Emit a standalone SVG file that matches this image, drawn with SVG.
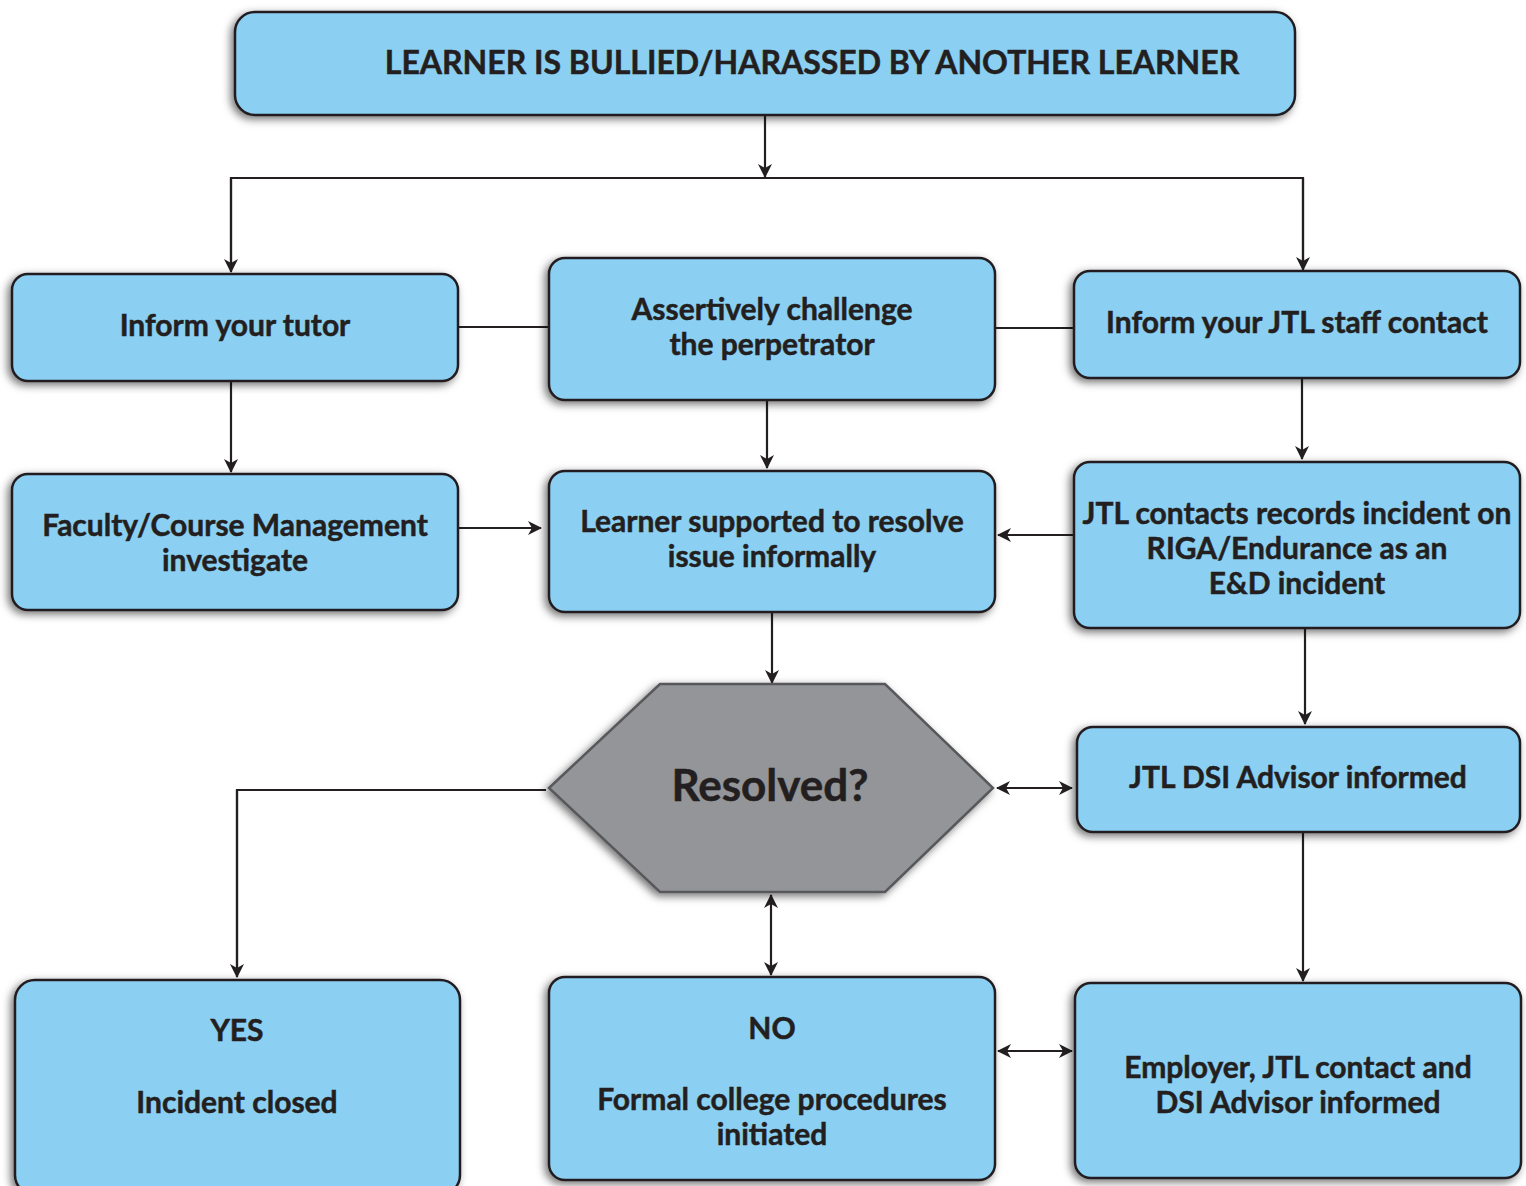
<svg xmlns="http://www.w3.org/2000/svg" width="1526" height="1186" viewBox="0 0 1526 1186">
<defs>
<filter id="sh" x="-10%" y="-20%" width="120%" height="140%">
<feDropShadow dx="-3" dy="3" stdDeviation="4" flood-color="#000" flood-opacity="0.55"/>
</filter>
<marker id="ah" viewBox="0 0 14 14" refX="13" refY="7" markerWidth="14" markerHeight="14" markerUnits="userSpaceOnUse" orient="auto-start-reverse">
<path d="M0,0 L14,7 L0,14 L4,7 Z" fill="#231f20"/>
</marker>
</defs>
<style>
.box{fill:#8bd0f2;stroke:#231f20;stroke-width:2.5;filter:url(#sh)}
.hex{fill:#939598;stroke:#58595b;stroke-width:2.5;filter:url(#sh)}
.t{font-family:Lato,"Liberation Sans",sans-serif;font-weight:bold;font-size:30px;fill:#231f20;stroke:#231f20;stroke-width:0.5;text-anchor:middle}
.c{fill:none;stroke:#231f20;stroke-width:2.2}
.a{marker-end:url(#ah)}
.d{marker-start:url(#ah);marker-end:url(#ah)}
</style>
<rect width="1526" height="1186" fill="#fff"/>
<g id="connectors">
<line class="c a" x1="765" y1="115" x2="765" y2="177"/>
<polyline class="c" points="231,270 231,178 1303,178 1303,268"/>
<line class="c a" x1="231" y1="178" x2="231" y2="272"/>
<line class="c a" x1="1303" y1="178" x2="1303" y2="270"/>
<line class="c" x1="458" y1="327" x2="549" y2="327"/>
<line class="c" x1="995" y1="328" x2="1074" y2="328"/>
<line class="c a" x1="231" y1="381" x2="231" y2="472"/>
<line class="c a" x1="767" y1="400" x2="767" y2="468"/>
<line class="c a" x1="1302" y1="378" x2="1302" y2="459"/>
<line class="c a" x1="458" y1="528" x2="541" y2="528"/>
<line class="c a" x1="1074" y1="535" x2="998" y2="535"/>
<line class="c a" x1="772" y1="612" x2="772" y2="683"/>
<line class="c a" x1="1305" y1="628" x2="1305" y2="724"/>
<line class="c d" x1="997" y1="788" x2="1072" y2="788"/>
<polyline class="c" points="546,790 237,790 237,970"/>
<line class="c a" x1="237" y1="790" x2="237" y2="977"/>
<line class="c d" x1="771" y1="895" x2="771" y2="975"/>
<line class="c d" x1="998" y1="1051" x2="1072" y2="1051"/>
<line class="c a" x1="1303" y1="832" x2="1303" y2="981"/>
</g>
<g id="n1"><rect class="box" x="235" y="12" width="1060" height="103" rx="20"/><text class="t" x="812" y="74" style="font-size:32px">LEARNER IS BULLIED/HARASSED BY ANOTHER LEARNER</text></g>
<g id="n2"><rect class="box" x="12" y="274" width="446" height="107" rx="16"/><text class="t" x="235" y="336">Inform your tutor</text></g>
<g id="n3"><rect class="box" x="549" y="258" width="446" height="142" rx="16"/><text class="t" x="772" y="320">Assertively challenge</text><text class="t" x="772" y="355">the perpetrator</text></g>
<g id="n4"><rect class="box" x="1074" y="271" width="446" height="107" rx="16"/><text class="t" x="1297" y="333">Inform your JTL staff contact</text></g>
<g id="n5"><rect class="box" x="12" y="474" width="446" height="136" rx="16"/><text class="t" x="235" y="536">Faculty/Course Management</text><text class="t" x="235" y="571">investigate</text></g>
<g id="n6"><rect class="box" x="549" y="471" width="446" height="141" rx="16"/><text class="t" x="772" y="532">Learner supported to resolve</text><text class="t" x="772" y="567">issue informally</text></g>
<g id="n7"><rect class="box" x="1074" y="462" width="446" height="166" rx="16"/><text class="t" x="1297" y="524">JTL contacts records incident on</text><text class="t" x="1297" y="559">RIGA/Endurance as an</text><text class="t" x="1297" y="594">E&amp;D incident</text></g>
<g id="n8"><polygon class="hex" points="549,788 660,684 885,684 993,788 885,892 660,892"/><text class="t" x="770" y="801" style="font-size:44px">Resolved?</text></g>
<g id="n9"><rect class="box" x="1077" y="727" width="443" height="105" rx="16"/><text class="t" x="1298" y="788">JTL DSI Advisor informed</text></g>
<g id="n10"><rect class="box" x="15" y="980" width="445" height="215" rx="20"/><text class="t" x="237" y="1041">YES</text><text class="t" x="237" y="1113">Incident closed</text></g>
<g id="n11"><rect class="box" x="549" y="977" width="446" height="203" rx="16"/><text class="t" x="772" y="1039">NO</text><text class="t" x="772" y="1110">Formal college procedures</text><text class="t" x="772" y="1145">initiated</text></g>
<g id="n12"><rect class="box" x="1075" y="983" width="446" height="195" rx="16"/><text class="t" x="1298" y="1078">Employer, JTL contact and</text><text class="t" x="1298" y="1113">DSI Advisor informed</text></g>
</svg>
